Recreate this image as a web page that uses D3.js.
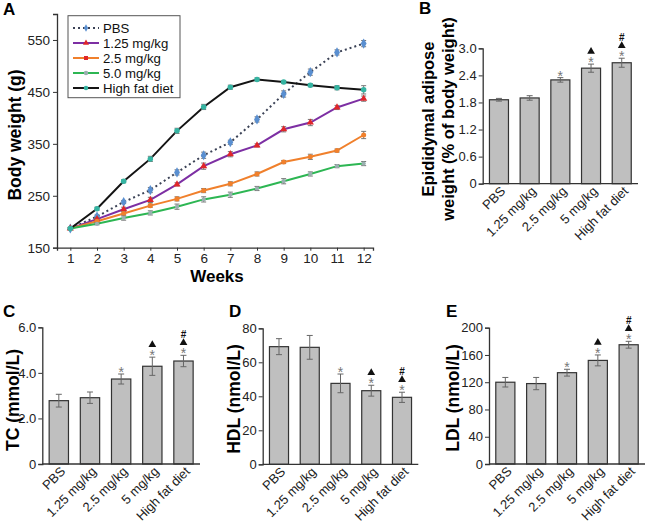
<!DOCTYPE html>
<html>
<head>
<meta charset="utf-8">
<script src="https://cdn.jsdelivr.net/npm/d3@7"></script>
<style>
body { margin: 0; background: #fff; }
text { font-family: "Liberation Sans", Arial, sans-serif; }
</style>
</head>
<body>
<script>
// ---- panel A data (body weight, g) ----
const weeks = [1, 2, 3, 4, 5, 6, 7, 8, 9, 10, 11, 12];
const pbs = [187, 210, 238, 261, 295, 328, 353, 397, 446, 488, 526, 543];
const pbsErr = [2, 3, 3, 5, 5, 6, 4, 5, 6, 6, 5, 6];
const mg125 = [187, 205, 224, 242, 272, 307, 330, 347, 378, 391, 420, 437];
const mg125Err = [2, 3, 4, 5, 3, 6, 5, 3, 5, 6, 4, 5];
const mg25 = [187, 201, 216, 231, 244, 260, 273, 292, 315, 325, 337, 367];
const mg25Err = [2, 2, 3, 3, 4, 4, 4, 4, 3, 5, 3, 7];
const mg50 = [187, 196, 207, 217, 229, 243, 252, 264, 278, 292, 307, 312];
const mg50Err = [2, 2, 4, 4, 5, 5, 5, 4, 5, 4, 3, 4];
const hfd = [187, 225, 278, 321, 375, 421, 459, 474, 469, 463, 458, 454];
const hfdErr = [2, 3, 3, 5, 5, 5, 4, 3, 3, 3, 4, 8];
const seriesNames = ["PBS", "1.25 mg/kg", "2.5 mg/kg", "5.0 mg/kg", "High fat diet"];

// ---- bar panels ----
const groups = ["PBS", "1.25 mg/kg", "2.5 mg/kg", "5 mg/kg", "High fat diet"];
const adipose = [1.86, 1.90, 2.30, 2.56, 2.68];
const adiposeErr = [0.03, 0.05, 0.05, 0.09, 0.10];
const tc = [2.78, 2.91, 3.73, 4.29, 4.52];
const tcErr = [0.28, 0.25, 0.22, 0.40, 0.25];
const hdl = [69.2, 68.8, 47.6, 43.3, 39.4];
const hdlErr = [4.7, 7.0, 5.5, 3.2, 3.0];
const ldl = [120, 118, 134, 152, 175];
const ldlErr = [7, 9, 5, 8, 5];
const marks = [[], [], ["*"], ["*", "▲"], ["*", "▲", "#"]];

const svg = d3.select("body").append("svg")
    .attr("width", 648)
    .attr("height", 524);

function letter(t, x, y) {
  svg.append("text").attr("x", x).attr("y", y)
    .attr("font-size", 17).attr("font-weight", "bold").text(t);
}

function styleAxis(g, size) {
  g.select(".domain").attr("stroke", "#333").attr("stroke-width", 1.3);
  g.selectAll(".tick line").attr("stroke", "#333");
  g.selectAll(".tick text").attr("font-size", size).attr("fill", "#222")
    .attr("font-family", "'Liberation Sans', Arial, sans-serif");
}

// ================= panel A =================
letter("A", 3, 15);
const x = d3.scaleLinear().domain([0.5, 12.35]).range([57, 373]);
const y = d3.scaleLinear().domain([150, 600]).range([247.7, 14]);

const gx = svg.append("g").attr("transform", "translate(0,247.7)")
  .call(d3.axisBottom(x).tickValues(weeks).tickSizeOuter(0).tickSize(3).tickPadding(3));
styleAxis(gx, 13.5);
const gy = svg.append("g").attr("transform", "translate(57,0)")
  .call(d3.axisLeft(y).tickValues([150, 250, 350, 450, 550]).tickSizeOuter(0).tickSize(4).tickPadding(3));
styleAxis(gy, 13.5);

svg.append("text").attr("transform", "translate(21,135) rotate(-90)")
  .attr("text-anchor", "middle").attr("font-size", 17.5).attr("font-weight", "bold")
  .text("Body weight (g)");
svg.append("text").attr("x", 217).attr("y", 282)
  .attr("text-anchor", "middle").attr("font-size", 17).attr("font-weight", "bold")
  .text("Weeks");

const series = [
  { vals: pbs, err: pbsErr, stroke: "#3b4256", dash: "2,3", sym: d3.symbolDiamond, size: 30, fill: "#5a8fd0" },
  { vals: mg125, err: mg125Err, stroke: "#7d2fa3", dash: null, sym: d3.symbolTriangle, size: 22, fill: "#e0262a" },
  { vals: mg25, err: mg25Err, stroke: "#f0802c", dash: null, sym: d3.symbolCircle, size: 20, fill: "#f0802c" },
  { vals: mg50, err: mg50Err, stroke: "#2db653", dash: null, sym: d3.symbolCircle, size: 14, fill: "#9ab0b0" },
  { vals: hfd, err: hfdErr, stroke: "#141414", dash: null, sym: d3.symbolCircle, size: 24, fill: "#35b4a2" }
];

const line = d3.line().x((d, i) => x(weeks[i])).y(d => y(d));

series.forEach(s => {
  svg.append("path").datum(s.vals)
    .attr("d", line).attr("fill", "none")
    .attr("stroke", s.stroke).attr("stroke-width", 2)
    .attr("stroke-dasharray", s.dash);
});
series.forEach(s => {
  const eb = svg.append("g").attr("stroke", "#777").attr("stroke-width", 1);
  s.vals.forEach((v, i) => {
    const cx = x(weeks[i]);
    eb.append("line").attr("x1", cx).attr("x2", cx).attr("y1", y(v - s.err[i])).attr("y2", y(v + s.err[i]));
    eb.append("line").attr("x1", cx - 2.5).attr("x2", cx + 2.5).attr("y1", y(v - s.err[i])).attr("y2", y(v - s.err[i]));
    eb.append("line").attr("x1", cx - 2.5).attr("x2", cx + 2.5).attr("y1", y(v + s.err[i])).attr("y2", y(v + s.err[i]));
  });
  svg.append("g").selectAll("path").data(s.vals).join("path")
    .attr("transform", (d, i) => `translate(${x(weeks[i])},${y(d)})`)
    .attr("d", d3.symbol(s.sym, s.size))
    .attr("fill", s.fill);
});

// legend
const lg = svg.append("g");
lg.append("rect").attr("x", 68).attr("y", 15.7).attr("width", 112).attr("height", 82)
  .attr("fill", "#fff").attr("stroke", "#555").attr("stroke-width", 1);
seriesNames.forEach((n, i) => {
  const s = series[i];
  const ly = 28 + i * 15;
  lg.append("line").attr("x1", 73).attr("x2", 99).attr("y1", ly).attr("y2", ly)
    .attr("stroke", s.stroke).attr("stroke-width", 2).attr("stroke-dasharray", s.dash);
  lg.append("path").attr("transform", `translate(86,${ly})`)
    .attr("d", d3.symbol(i === 2 ? d3.symbolSquare : s.sym, 16))
    .attr("fill", i === 2 ? "#e0262a" : s.fill);
  lg.append("text").attr("x", 103).attr("y", ly + 5).attr("font-size", 13.2).attr("fill", "#111").text(n);
});

// ================= bar panels =================
function barPanel(o) {
  const xb = d3.scaleBand().domain(groups).range([o.x0, o.x1]).paddingInner(0.38).paddingOuter(0.22);
  const yb = d3.scaleLinear().domain([0, o.max]).range([o.yBot, o.yTop]);
  const g = svg.append("g");

  g.selectAll("rect").data(o.vals).join("rect")
    .attr("x", (d, i) => xb(groups[i]))
    .attr("width", xb.bandwidth())
    .attr("y", d => yb(d))
    .attr("height", d => o.yBot - yb(d))
    .attr("fill", "#bfbfbf").attr("stroke", "#333").attr("stroke-width", 1.2);

  o.vals.forEach((v, i) => {
    const cx = xb(groups[i]) + xb.bandwidth() / 2;
    const lo = yb(v - o.err[i]), hi = yb(v + o.err[i]);
    const eg = g.append("g").attr("stroke", "#666").attr("stroke-width", 1);
    eg.append("line").attr("x1", cx).attr("x2", cx).attr("y1", lo).attr("y2", hi);
    eg.append("line").attr("x1", cx - 3).attr("x2", cx + 3).attr("y1", lo).attr("y2", lo);
    eg.append("line").attr("x1", cx - 3).attr("x2", cx + 3).attr("y1", hi).attr("y2", hi);
    marks[i].forEach((m, k) => {
      const cy = hi - 5 - k * 8;
      if (m === "▲") {
        g.append("path").attr("transform", `translate(${cx},${cy + 0.5})`)
          .attr("d", d3.symbol(d3.symbolTriangle, 26)).attr("fill", "#111");
      } else if (m === "*") {
        g.append("text").attr("x", cx).attr("y", cy + 8).attr("text-anchor", "middle")
          .attr("font-size", 14).attr("fill", "#777").text("*");
      } else {
        g.append("text").attr("x", cx).attr("y", cy + 3.5).attr("text-anchor", "middle")
          .attr("font-size", 10).attr("font-weight", "bold").attr("fill", "#111").text("#");
      }
    });
  });

  const ay = g.append("g").attr("transform", `translate(${o.x0},0)`)
    .call(d3.axisLeft(yb).tickValues(o.ticks).tickFormat(o.fmt).tickSizeOuter(0).tickSize(4).tickPadding(2));
  styleAxis(ay, 13);
  g.append("line").attr("x1", o.x0).attr("x2", o.x1).attr("y1", o.yBot).attr("y2", o.yBot)
    .attr("stroke", "#333").attr("stroke-width", 1.3);

  groups.forEach(c => {
    const cx = xb(c) + xb.bandwidth() / 2;
    g.append("text").attr("transform", `translate(${cx + 4},${o.yBot + 5}) rotate(-45)`)
      .attr("text-anchor", "end").attr("dy", "0.35em")
      .attr("font-size", 13).attr("fill", "#222").text(c);
  });

  o.title.forEach((t, k) => {
    g.append("text").attr("transform", `translate(${o.titleX[k]},${o.titleY}) rotate(-90)`)
      .attr("text-anchor", "middle").attr("font-size", o.titleSize).attr("font-weight", "bold").text(t);
  });
}

letter("B", 419, 14);
barPanel({
  x0: 482.7, x1: 638, yTop: 48.3, yBot: 183.7, max: 3.0,
  ticks: [0, 0.6, 1.2, 1.8, 2.4, 3.0], fmt: d => d === 0 ? "0" : d3.format(".1f")(d),
  vals: adipose, err: adiposeErr,
  title: ["Epididymal adipose", "weight (% of body weight)"], titleX: [434, 454], titleY: 119, titleSize: 16.5
});

letter("C", 3, 317);
barPanel({
  x0: 42.3, x1: 200, yTop: 327.3, yBot: 464, max: 6.0,
  ticks: [0, 2, 4, 6], fmt: d => d === 0 ? "0" : d3.format(".1f")(d),
  vals: tc, err: tcErr,
  title: ["TC (mmol/L)"], titleX: [19], titleY: 400, titleSize: 17.5
});

letter("D", 229, 317);
barPanel({
  x0: 262.7, x1: 418.3, yTop: 328.3, yBot: 464.3, max: 80,
  ticks: [0, 20, 40, 60, 80], fmt: d3.format("d"),
  vals: hdl, err: hdlErr,
  title: ["HDL (nmol/L)"], titleX: [240], titleY: 399, titleSize: 17.5
});

letter("E", 446, 317);
barPanel({
  x0: 489, x1: 645, yTop: 327.7, yBot: 464, max: 200,
  ticks: [0, 40, 80, 120, 160, 200], fmt: d3.format("d"),
  vals: ldl, err: ldlErr,
  title: ["LDL (nmol/L)"], titleX: [459], titleY: 398, titleSize: 17.5
});
</script>
</body>
</html>
